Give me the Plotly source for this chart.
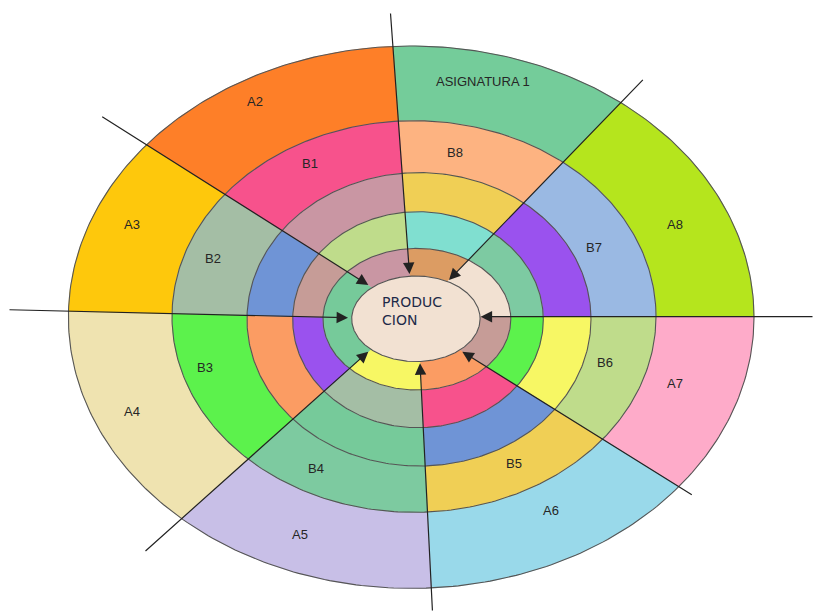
import numpy as np
import plotly.graph_objects as go

# ---------------- data ----------------
ring_a_labels = ["ASIGNATURA 1", "A8", "A7", "A6", "A5", "A4", "A3", "A2"]
ring_b_labels = ["B8", "B7", "B6", "B5", "B4", "B3", "B2", "B1"]
center_lines = ["PRODUC", "CION"]

# ---------------- styles ----------------
ring_colors = [
    ["#74CC9A", "#B5E51D", "#FEABC9", "#99D9EA", "#C8BFE7", "#EFE3B0", "#FEC80C", "#FE7F28"],  # A ring
    ["#FDB381", "#9AB9E3", "#BFDC8B", "#F0CF55", "#7DCAA0", "#5CF24C", "#A4BEA5", "#F7528C"],  # B ring
    ["#F0CF55", "#9A52EE", "#F7F764", "#6F94D6", "#76CA9A", "#FB9C63", "#6F94D6", "#C996A3"],  # ring 3
    ["#80DFD0", "#7DCAA2", "#5CF24C", "#F7528C", "#A4BEA5", "#9A52EE", "#C69C97", "#BFDC8B"],  # ring 4
    ["#DC9C63", "#F2E1D2", "#C69C97", "#FB9C63", "#F7F764", "#76CA9A", "#76CA9A", "#C996A3"],  # ring 5
]
center_color = "#F2E1D2"
edge_color = "#555555"
spoke_color = "#222222"

# ---------------- geometry (pixel space) ----------------
ellipses = [  # cx, cy, a, b  (outer -> inner)
    (411.2, 317.2, 342.8, 271.2),
    (414.0, 316.5, 242.0, 195.8),
    (419.0, 319.3, 172.0, 146.7),
    (418.0, 319.7, 125.3, 108.0),
    (416.9, 319.2, 93.9, 70.8),
    (415.9, 318.8, 64.2, 42.8),
]
spokes = [  # (start), (arrow tip) in clockwise order from top
    ((390.4, 12.0), (409.5, 274.0)),
    ((644.3, 78.3), (449.0, 280.0)),
    ((814.0, 316.7), (480.7, 316.7)),
    ((693.3, 495.7), (462.3, 351.7)),
    ((432.5, 612.0), (420.0, 363.3)),
    ((144.0, 552.3), (368.3, 351.7)),
    ((8.0, 309.7), (348.0, 317.7)),
    ((100.7, 115.7), (368.3, 285.0)),
]
a_label_pos = [(483, 81), (675, 224), (675, 383), (551, 510), (300, 534), (132, 411), (132, 224), (255, 101)]
b_label_pos = [(455, 152), (594, 247), (605, 362), (514, 463), (316, 468), (205, 367), (213, 258), (310, 163)]


def hit_angle(spoke, ell):
    (x0, y0), (x1, y1) = spoke
    cx, cy, a, b = ell
    dx, dy = x1 - x0, y1 - y0
    px, py = (x0 - cx) / a, (y0 - cy) / b
    qx, qy = dx / a, dy / b
    A = qx * qx + qy * qy
    B = 2 * (px * qx + py * qy)
    C = px * px + py * py - 1
    disc = max(B * B - 4 * A * C, 0)
    s = (-B - np.sqrt(disc)) / (2 * A)
    x, y = x0 + s * dx, y0 + s * dy
    return np.arctan2((y - cy) / b, (x - cx) / a)


def arc(ell, t0, t1, n=90):
    cx, cy, a, b = ell
    t = np.linspace(t0, t1, n)
    return cx + a * np.cos(t), cy + b * np.sin(t)


angles = [[hit_angle(sp, e) for sp in spokes] for e in ellipses]
ns = len(spokes)

fig = go.Figure()

for r in range(5):
    eo, ei = ellipses[r], ellipses[r + 1]
    for j in range(ns):
        t0o, t1o = angles[r][j], angles[r][(j + 1) % ns]
        if t1o <= t0o:
            t1o += 2 * np.pi
        t0i, t1i = angles[r + 1][j], angles[r + 1][(j + 1) % ns]
        if t1i <= t0i:
            t1i += 2 * np.pi
        xo, yo = arc(eo, t0o, t1o)
        xi, yi = arc(ei, t1i, t0i)
        fig.add_trace(go.Scatter(
            x=np.concatenate([xo, xi, xo[:1]]), y=np.concatenate([yo, yi, yo[:1]]),
            mode="lines", fill="toself", fillcolor=ring_colors[r][j],
            line=dict(width=0.6, color=ring_colors[r][j]), hoverinfo="skip", showlegend=False))

# center ellipse
xc, yc = arc(ellipses[-1], 0, 2 * np.pi, 200)
fig.add_trace(go.Scatter(x=xc, y=yc, mode="lines", fill="toself", fillcolor=center_color,
                         line=dict(width=0), hoverinfo="skip", showlegend=False))

# ellipse outlines
for e in ellipses:
    xe, ye = arc(e, 0, 2 * np.pi, 400)
    fig.add_trace(go.Scatter(x=xe, y=ye, mode="lines", line=dict(color=edge_color, width=1.1),
                             hoverinfo="skip", showlegend=False))

annotations = []
for (s, t) in spokes:
    annotations.append(dict(x=t[0], y=t[1], ax=s[0], ay=s[1], xref="x", yref="y", axref="x", ayref="y",
                            text="", showarrow=True, arrowhead=2, arrowsize=1.9, arrowwidth=1.2,
                            arrowcolor=spoke_color, standoff=0, startstandoff=0))

lab_font = dict(family="Liberation Sans, Arial, sans-serif", size=13, color="#262626")
for txt, (x, y) in zip(ring_a_labels, a_label_pos):
    annotations.append(dict(x=x, y=y, xref="x", yref="y", text=txt, showarrow=False, font=lab_font))
for txt, (x, y) in zip(ring_b_labels, b_label_pos):
    annotations.append(dict(x=x, y=y, xref="x", yref="y", text=txt, showarrow=False, font=lab_font))

cen_font = dict(family="DejaVu Sans, Verdana, sans-serif", size=14, color="#1E2A48")
for txt, y in zip(center_lines, [302, 320]):
    annotations.append(dict(x=380, y=y, xref="x", yref="y", text=txt, showarrow=False,
                            xanchor="left", font=cen_font))

fig.update_layout(
    width=814, height=612, margin=dict(l=0, r=0, t=0, b=0),
    paper_bgcolor="white", plot_bgcolor="white",
    xaxis=dict(range=[0, 814], visible=False, showgrid=False, zeroline=False, fixedrange=True),
    yaxis=dict(range=[612, 0], visible=False, showgrid=False, zeroline=False, fixedrange=True),
    annotations=annotations, showlegend=False, hovermode=False,
)
fig.write_html("out.html", config={"displayModeBar": False, "staticPlot": True},
               post_script="document.body.style.margin='0';document.body.style.overflow='hidden';")
